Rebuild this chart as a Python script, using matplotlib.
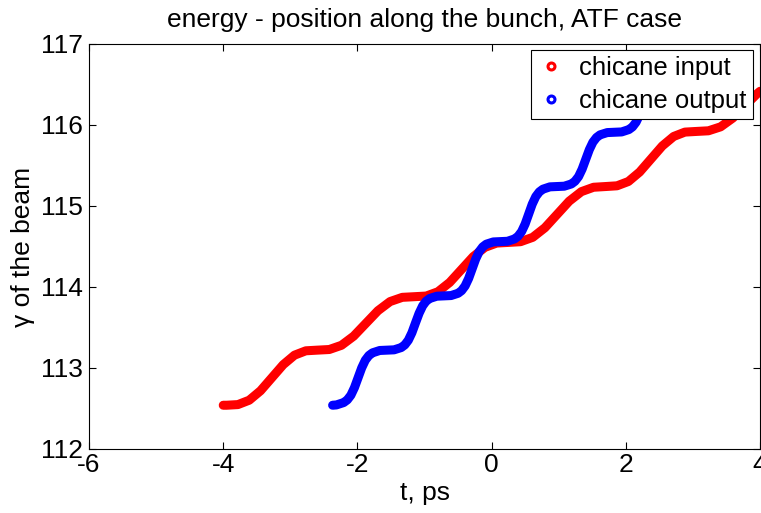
import matplotlib
matplotlib.use("Agg")
import matplotlib.pyplot as plt
from matplotlib.lines import Line2D

plt.rcParams["font.family"] = ["Liberation Sans", "DejaVu Sans"]
plt.rcParams["axes.unicode_minus"] = False

# chicane input (red)
t_in = [-4.0, -3.95, -3.781, -3.613, -3.444, -3.275, -3.106, -2.938, -2.769,
        -2.6, -2.419, -2.238, -2.056, -1.875, -1.694, -1.513, -1.331,
        -1.15, -0.975, -0.8, -0.625, -0.45, -0.275, -0.1, 0.075,
        0.25, 0.431, 0.613, 0.794, 0.975, 1.156, 1.338, 1.519,
        1.7, 1.869, 2.038, 2.206, 2.375, 2.544, 2.713, 2.881,
        3.05, 3.231, 3.413, 3.594, 3.775, 3.956, 4.0]
g_in = [112.54, 112.54, 112.548, 112.602, 112.719, 112.88, 113.041, 113.158, 113.212,
        113.22, 113.228, 113.28, 113.393, 113.55, 113.707, 113.82, 113.872,
        113.88, 113.888, 113.941, 114.056, 114.215, 114.374, 114.489, 114.542,
        114.55, 114.559, 114.613, 114.731, 114.895, 115.059, 115.177, 115.231,
        115.24, 115.249, 115.302, 115.419, 115.58, 115.741, 115.858, 115.912,
        115.92, 115.928, 115.977, 116.085, 116.235, 116.385, 116.416]

# chicane output (blue)
t_out = [-2.37, -2.3125, -2.205, -2.151, -2.0975, -2.044, -1.99, -1.936, -1.8825,
         -1.829, -1.775, -1.6675, -1.56,
         -1.454, -1.3475, -1.294, -1.241, -1.188, -1.135, -1.081, -1.028,
         -0.976, -0.9225, -0.816, -0.71,
         -0.605, -0.50, -0.4475, -0.395, -0.3425, -0.29, -0.2375, -0.185,
         -0.1325, -0.08, 0.025, 0.13,
         0.236, 0.341, 0.394, 0.447, 0.5, 0.5525, 0.605, 0.658,
         0.711, 0.764, 0.869, 0.975,
         1.082, 1.189, 1.242, 1.296, 1.349, 1.4025, 1.456, 1.509,
         1.563, 1.616, 1.723, 1.83,
         1.9375, 2.045, 2.099, 2.1525, 2.206, 2.26, 2.314, 2.3675]
g_out = [112.54, 112.544, 112.573, 112.606, 112.664, 112.758, 112.88, 113.002, 113.096,
         113.154, 113.187, 113.216, 113.22,
         113.224, 113.252, 113.285, 113.343, 113.435, 113.555, 113.675, 113.767,
         113.825, 113.858, 113.886, 113.89,
         113.894, 113.922, 113.955, 114.013, 114.105, 114.225, 114.345, 114.437,
         114.495, 114.528, 114.556, 114.56,
         114.564, 114.593, 114.626, 114.684, 114.778, 114.90, 115.022, 115.116,
         115.174, 115.207, 115.236, 115.24,
         115.244, 115.272, 115.305, 115.363, 115.455, 115.575, 115.695, 115.787,
         115.845, 115.878, 115.906, 115.91,
         115.914, 115.943, 115.976, 116.034, 116.128, 116.25, 116.372, 116.466]

fig = plt.figure(figsize=(7.61, 5.13), dpi=100)
ax = fig.add_axes([0.117, 0.1248, 0.8817, 0.7895])

ax.plot(t_in, g_in, color="red", lw=6.5, solid_capstyle="round", solid_joinstyle="round")
ax.plot(t_out, g_out, color="blue", lw=6.5, solid_capstyle="round", solid_joinstyle="round")

ax.set_xlim(-6, 4)
ax.set_ylim(112, 117)
ax.set_xticks([-6, -4, -2, 0, 2, 4])
ax.set_yticks([112, 113, 114, 115, 116, 117])
ax.tick_params(direction="in", length=5, top=True, right=True, labelsize=19)
ax.tick_params(axis="x", pad=3)
ax.tick_params(axis="y", pad=4.5)
for s in ax.spines.values():
    s.set_linewidth(0.8)

ax.set_title("energy - position along the bunch, ATF case", fontsize=19, pad=12)
ax.set_xlabel("t, ps", fontsize=19, labelpad=3)
ax.set_ylabel("γ of the beam", fontsize=19, labelpad=4)

handles = [
    Line2D([], [], ls="none", marker="o", ms=5, mew=2.2, mec="red", mfc="white"),
    Line2D([], [], ls="none", marker="o", ms=5, mew=2.2, mec="blue", mfc="white"),
]
leg = ax.legend(handles, ["chicane input", "chicane output"], loc="upper right",
                bbox_to_anchor=(0.9896, 0.985), fontsize=18.5, frameon=True,
                fancybox=False, handlelength=1.05, handletextpad=0.6,
                borderpad=0.24, labelspacing=0.33, borderaxespad=0)
leg.get_frame().set_edgecolor("black")
leg.get_frame().set_linewidth(0.8)
leg.get_frame().set_alpha(1)

fig.savefig("out.png", dpi=100)
